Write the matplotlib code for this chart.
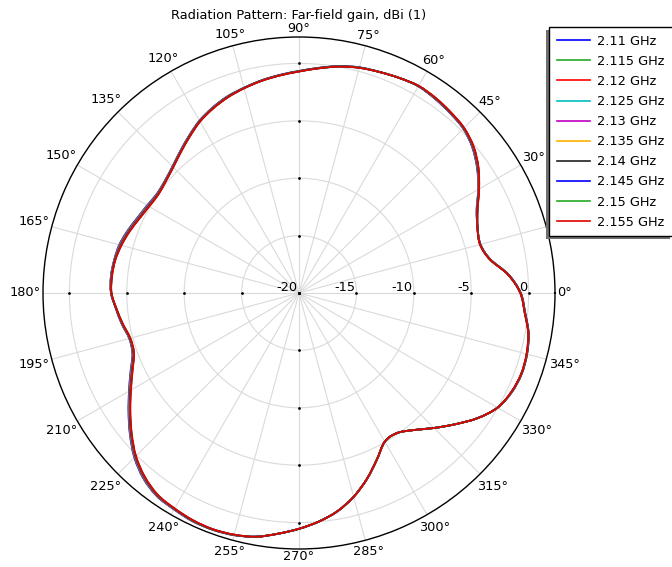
"""
Far-field radiation pattern (gain in dBi) of the antenna over the
2.11-2.155 GHz sweep, shown as a polar plot.
"""

import matplotlib

matplotlib.use("Agg")

import matplotlib.pyplot as plt
import numpy as np
from matplotlib.lines import Line2D
from matplotlib.patches import PathPatch, Rectangle
from matplotlib.path import Path
from matplotlib.transforms import IdentityTransform


OUTPUT_PATH = "out.png"

# azimuth samples, degrees
ANGLES_DEG = list(range(0, 360, 5))

FREQ_LABELS = [
    "2.11 GHz", "2.115 GHz", "2.12 GHz", "2.125 GHz", "2.13 GHz",
    "2.135 GHz", "2.14 GHz", "2.145 GHz", "2.15 GHz", "2.155 GHz",
]

# gain in dBi at each azimuth sample, one list per frequency
gain_2110 = [
    -0.68, -1.67, -3.08, -3.63, -3.45, -2.93, -1.98, -1.06, -0.29, 0.24,
    0.46, 0.65, 0.79, 0.67, 0.49, 0.35, 0.07, -0.31, -0.66, -0.93,
    -1.19, -1.49, -1.77, -2.18, -2.66, -3.29, -3.89, -4.41, -4.76, -4.90,
    -4.73, -4.47, -4.11, -3.79, -3.64, -3.55, -3.62, -4.00, -4.33, -4.69,
    -4.56, -3.81, -2.90, -1.87, -0.78, 0.28, 1.09, 1.60, 1.77, 1.94,
    1.95, 1.84, 1.56, 1.05, 0.54, -0.02, -0.70, -1.62, -2.74, -3.97,
    -5.05, -5.11, -4.42, -3.37, -2.22, -1.00, -0.03, 0.45, 0.64, 0.57,
    0.32, -0.22,
]
gain_2115 = [
    -0.69, -1.68, -3.09, -3.64, -3.45, -2.92, -1.97, -1.04, -0.27, 0.25,
    0.47, 0.66, 0.80, 0.67, 0.49, 0.34, 0.06, -0.32, -0.67, -0.94,
    -1.20, -1.50, -1.78, -2.19, -2.67, -3.30, -3.90, -4.42, -4.77, -4.92,
    -4.75, -4.49, -4.13, -3.81, -3.65, -3.56, -3.63, -4.01, -4.34, -4.70,
    -4.58, -3.83, -2.92, -1.89, -0.80, 0.26, 1.07, 1.58, 1.76, 1.93,
    1.94, 1.83, 1.56, 1.05, 0.54, -0.02, -0.70, -1.62, -2.74, -3.97,
    -5.05, -5.11, -4.42, -3.37, -2.22, -1.00, -0.03, 0.44, 0.63, 0.56,
    0.31, -0.23,
]
gain_2120 = [
    -0.69, -1.68, -3.09, -3.64, -3.45, -2.91, -1.96, -1.03, -0.26, 0.26,
    0.48, 0.67, 0.80, 0.67, 0.49, 0.34, 0.06, -0.32, -0.67, -0.94,
    -1.20, -1.50, -1.79, -2.20, -2.68, -3.31, -3.91, -4.43, -4.78, -4.93,
    -4.77, -4.51, -4.15, -3.83, -3.66, -3.57, -3.63, -4.01, -4.35, -4.71,
    -4.59, -3.85, -2.94, -1.91, -0.82, 0.24, 1.05, 1.57, 1.75, 1.92,
    1.94, 1.83, 1.56, 1.05, 0.54, -0.02, -0.70, -1.62, -2.74, -3.97,
    -5.05, -5.11, -4.42, -3.37, -2.22, -1.00, -0.03, 0.44, 0.63, 0.56,
    0.31, -0.23,
]
gain_2125 = [
    -0.70, -1.69, -3.10, -3.65, -3.45, -2.90, -1.95, -1.01, -0.24, 0.27,
    0.49, 0.68, 0.81, 0.67, 0.49, 0.33, 0.05, -0.33, -0.68, -0.95,
    -1.21, -1.51, -1.80, -2.21, -2.69, -3.32, -3.92, -4.44, -4.79, -4.95,
    -4.79, -4.53, -4.17, -3.85, -3.67, -3.58, -3.64, -4.02, -4.36, -4.72,
    -4.61, -3.87, -2.96, -1.93, -0.84, 0.22, 1.03, 1.55, 1.74, 1.91,
    1.93, 1.82, 1.56, 1.05, 0.54, -0.02, -0.70, -1.62, -2.74, -3.97,
    -5.05, -5.11, -4.42, -3.37, -2.22, -1.00, -0.03, 0.43, 0.62, 0.55,
    0.30, -0.24,
]
gain_2130 = [
    -0.70, -1.69, -3.10, -3.65, -3.45, -2.89, -1.94, -1.00, -0.23, 0.28,
    0.50, 0.69, 0.81, 0.67, 0.49, 0.33, 0.05, -0.33, -0.68, -0.95,
    -1.21, -1.51, -1.81, -2.22, -2.70, -3.33, -3.93, -4.45, -4.80, -4.96,
    -4.81, -4.55, -4.19, -3.87, -3.68, -3.59, -3.64, -4.02, -4.37, -4.73,
    -4.62, -3.89, -2.98, -1.95, -0.86, 0.20, 1.01, 1.54, 1.73, 1.90,
    1.93, 1.82, 1.56, 1.05, 0.54, -0.02, -0.70, -1.62, -2.74, -3.97,
    -5.05, -5.11, -4.42, -3.37, -2.22, -1.00, -0.03, 0.43, 0.62, 0.55,
    0.30, -0.24,
]
gain_2135 = [
    -0.71, -1.70, -3.11, -3.66, -3.45, -2.87, -1.92, -0.97, -0.20, 0.30,
    0.52, 0.71, 0.82, 0.67, 0.49, 0.32, 0.04, -0.34, -0.69, -0.96,
    -1.22, -1.52, -1.83, -2.24, -2.72, -3.35, -3.95, -4.47, -4.82, -4.99,
    -4.85, -4.59, -4.23, -3.91, -3.70, -3.61, -3.65, -4.03, -4.39, -4.75,
    -4.65, -3.93, -3.02, -1.99, -0.90, 0.16, 0.97, 1.51, 1.71, 1.88,
    1.92, 1.81, 1.56, 1.05, 0.54, -0.02, -0.70, -1.62, -2.74, -3.97,
    -5.05, -5.11, -4.42, -3.37, -2.22, -1.00, -0.03, 0.42, 0.61, 0.54,
    0.29, -0.25,
]
gain_2140 = [
    -0.71, -1.70, -3.11, -3.66, -3.45, -2.86, -1.91, -0.96, -0.19, 0.31,
    0.53, 0.72, 0.82, 0.67, 0.49, 0.32, 0.04, -0.34, -0.69, -0.96,
    -1.22, -1.52, -1.84, -2.25, -2.73, -3.36, -3.96, -4.48, -4.83, -5.00,
    -4.87, -4.61, -4.25, -3.93, -3.71, -3.62, -3.65, -4.03, -4.40, -4.76,
    -4.66, -3.95, -3.04, -2.01, -0.92, 0.14, 0.95, 1.50, 1.70, 1.87,
    1.92, 1.81, 1.56, 1.05, 0.54, -0.02, -0.70, -1.62, -2.74, -3.97,
    -5.05, -5.11, -4.42, -3.37, -2.22, -1.00, -0.03, 0.42, 0.61, 0.54,
    0.29, -0.25,
]
gain_2145 = [
    -0.72, -1.71, -3.12, -3.67, -3.45, -2.85, -1.90, -0.94, -0.17, 0.32,
    0.54, 0.73, 0.83, 0.67, 0.49, 0.31, 0.03, -0.35, -0.70, -0.97,
    -1.23, -1.53, -1.85, -2.26, -2.74, -3.37, -3.97, -4.49, -4.84, -5.02,
    -4.89, -4.63, -4.27, -3.95, -3.72, -3.63, -3.66, -4.04, -4.41, -4.77,
    -4.68, -3.97, -3.06, -2.03, -0.94, 0.12, 0.93, 1.48, 1.69, 1.86,
    1.91, 1.80, 1.56, 1.05, 0.54, -0.02, -0.70, -1.62, -2.74, -3.97,
    -5.05, -5.11, -4.42, -3.37, -2.22, -1.00, -0.03, 0.41, 0.60, 0.53,
    0.28, -0.26,
]
gain_2150 = [
    -0.72, -1.71, -3.12, -3.67, -3.45, -2.84, -1.89, -0.93, -0.16, 0.33,
    0.55, 0.74, 0.83, 0.67, 0.49, 0.31, 0.03, -0.35, -0.70, -0.97,
    -1.23, -1.53, -1.86, -2.27, -2.75, -3.38, -3.98, -4.50, -4.85, -5.03,
    -4.91, -4.65, -4.29, -3.97, -3.73, -3.64, -3.66, -4.04, -4.42, -4.78,
    -4.69, -3.99, -3.08, -2.05, -0.96, 0.10, 0.91, 1.47, 1.68, 1.85,
    1.91, 1.80, 1.56, 1.05, 0.54, -0.02, -0.70, -1.62, -2.74, -3.97,
    -5.05, -5.11, -4.42, -3.37, -2.22, -1.00, -0.03, 0.41, 0.60, 0.53,
    0.28, -0.26,
]
gain_2155 = [
    -0.73, -1.72, -3.13, -3.68, -3.45, -2.83, -1.88, -0.91, -0.14, 0.34,
    0.56, 0.75, 0.84, 0.67, 0.49, 0.30, 0.02, -0.36, -0.71, -0.98,
    -1.24, -1.54, -1.87, -2.28, -2.76, -3.39, -3.99, -4.51, -4.86, -5.05,
    -4.93, -4.67, -4.31, -3.99, -3.74, -3.65, -3.67, -4.05, -4.43, -4.79,
    -4.71, -4.01, -3.10, -2.07, -0.98, 0.08, 0.89, 1.45, 1.67, 1.84,
    1.90, 1.79, 1.56, 1.05, 0.54, -0.02, -0.70, -1.62, -2.74, -3.97,
    -5.05, -5.11, -4.42, -3.37, -2.22, -1.00, -0.03, 0.40, 0.59, 0.52,
    0.27, -0.27,
]

R_TICKS = [-20, -15, -10, -5, 0]
R_MIN = -20
R_MAX = 2.3

LINE_COLORS = [
    "#0000ff", "#22aa22", "#ff0000", "#00bfbf", "#bf00bf",
    "#ffb000", "#202020", "#0000ff", "#22aa22", "#e00000",
]

FONT_SIZE = 9.3


def smooth_closed_path(ax, theta, r):
    """Closed cubic curve through the samples, built in axes coordinates."""
    pts = ax.transData.transform(np.column_stack([theta, r]))
    pts = ax.transAxes.inverted().transform(pts)
    n = len(pts)
    verts = [pts[0]]
    codes = [Path.MOVETO]
    for i in range(n):
        p0, p1 = pts[i - 1], pts[i]
        p2, p3 = pts[(i + 1) % n], pts[(i + 2) % n]
        verts += [p1 + (p2 - p0) / 6, p2 - (p3 - p1) / 6, p2]
        codes += [Path.CURVE4] * 3
    return Path(verts, codes)


def main():
    all_gains = [
        gain_2110, gain_2115, gain_2120, gain_2125, gain_2130,
        gain_2135, gain_2140, gain_2145, gain_2150, gain_2155,
    ]
    theta = np.deg2rad(ANGLES_DEG)

    fig = plt.figure(figsize=(6.72, 5.67), dpi=100)
    ax = fig.add_axes([43 / 672, 18 / 567, 512 / 672, 512 / 567],
                      projection="polar")
    ax.set_ylim(R_MIN, R_MAX)

    theta_ticks = list(range(0, 360, 15))
    ax.set_xticks(np.deg2rad(theta_ticks))
    ax.set_xticklabels([])
    ax.set_yticks(R_TICKS[1:])
    ax.set_yticklabels([])
    ax.grid(color="#dadada", linewidth=0.8)
    ax.spines["polar"].set_color("black")
    ax.spines["polar"].set_linewidth(1.0)

    handles = []
    for gains, color, label in zip(all_gains, LINE_COLORS, FREQ_LABELS):
        path = smooth_closed_path(ax, theta, gains)
        ax.add_patch(PathPatch(path, transform=ax.transAxes,
                               facecolor="none", edgecolor=color,
                               linewidth=1.3, zorder=3))
        handles.append(Line2D([], [], color=color, linewidth=1.2,
                              label=label))

    # radial scale labels sit just above the 0 deg spoke
    for r in R_TICKS:
        ax.annotate(f"{r}", xy=(0, r), xytext=(-1, 1.5),
                    textcoords="offset points", ha="right", va="baseline",
                    fontsize=FONT_SIZE)

    # small tick dots along the four main spokes
    for spoke in (0, 90, 180, 270):
        ax.plot(np.full(len(R_TICKS), np.deg2rad(spoke)), R_TICKS,
                linestyle="none", marker="o", markersize=2.0,
                markeredgewidth=0, color="black", zorder=2.5)

    # angle labels: each box just clears the outer circle
    renderer = fig.canvas.get_renderer()
    radius_px = ax.get_window_extent(renderer).width / 2
    for t in theta_ticks:
        a = np.deg2rad(t)
        txt = ax.text(0.5, 0.5, f"{t}°", transform=ax.transAxes,
                      ha="center", va="center", fontsize=FONT_SIZE)
        w = txt.get_window_extent(renderer).width
        dist = radius_px + 2 + 0.5 * w * abs(np.cos(a)) + 6 * abs(np.sin(a))
        k = 0.5 * dist / radius_px
        txt.set_position((0.5 + k * np.cos(a), 0.5 + k * np.sin(a)))

    fig.text(299 / 672, 1 - 15 / 567,
             "Radiation Pattern: Far-field gain, dBi (1)",
             ha="center", va="center", fontsize=FONT_SIZE)

    leg = fig.legend(
        handles, FREQ_LABELS,
        loc="upper left",
        bbox_to_anchor=(549 / 672, 1 - 27 / 567),
        bbox_transform=fig.transFigure,
        fontsize=FONT_SIZE,
        fancybox=False,
        framealpha=1,
        edgecolor="black",
        borderaxespad=0,
        borderpad=0.6,
        labelspacing=0.55,
        handlelength=2.55,
        handletextpad=0.6,
    )
    leg.get_frame().set_linewidth(1.0)

    # drop shadow offset to the lower left of the legend box
    fig.canvas.draw()
    bb = leg.get_window_extent()
    shadow = Rectangle((bb.x0 - 3, bb.y0 - 3), bb.width, bb.height,
                       transform=IdentityTransform(), facecolor="#707070",
                       edgecolor="none", zorder=4)
    fig.add_artist(shadow)

    fig.savefig(OUTPUT_PATH, dpi=100)
    plt.close(fig)


if __name__ == "__main__":
    main()
